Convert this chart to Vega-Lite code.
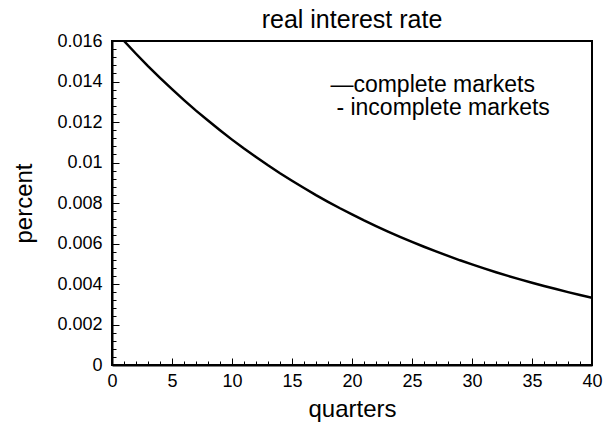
{
  "$schema": "https://vega.github.io/schema/vega-lite/v6.json",
  "width": 480,
  "height": 324,
  "autosize": "none",
  "padding": {"left": 112, "top": 41, "right": 18, "bottom": 69},
  "background": "white",
  "config": {
    "font": "Liberation Sans",
    "view": {"stroke": "black", "strokeWidth": 2}
  },
  "title": {
    "text": "real interest rate",
    "fontSize": 25,
    "fontWeight": "normal",
    "color": "black",
    "anchor": "middle",
    "offset": -1
  },
  "datasets": {
    "series": [
      {"q": 1, "r": 0.01600}, {"q": 2, "r": 0.01537}, {"q": 3, "r": 0.01476}, {"q": 4, "r": 0.01418},
      {"q": 5, "r": 0.01362}, {"q": 6, "r": 0.01308}, {"q": 7, "r": 0.01256}, {"q": 8, "r": 0.01207},
      {"q": 9, "r": 0.01159}, {"q": 10, "r": 0.01113}, {"q": 11, "r": 0.01069}, {"q": 12, "r": 0.01027},
      {"q": 13, "r": 0.00986}, {"q": 14, "r": 0.00947}, {"q": 15, "r": 0.00910}, {"q": 16, "r": 0.00874},
      {"q": 17, "r": 0.00839}, {"q": 18, "r": 0.00806}, {"q": 19, "r": 0.00774}, {"q": 20, "r": 0.00744},
      {"q": 21, "r": 0.00714}, {"q": 22, "r": 0.00686}, {"q": 23, "r": 0.00659}, {"q": 24, "r": 0.00633},
      {"q": 25, "r": 0.00608}, {"q": 26, "r": 0.00584}, {"q": 27, "r": 0.00561}, {"q": 28, "r": 0.00539},
      {"q": 29, "r": 0.00517}, {"q": 30, "r": 0.00497}, {"q": 31, "r": 0.00477}, {"q": 32, "r": 0.00458},
      {"q": 33, "r": 0.00440}, {"q": 34, "r": 0.00423}, {"q": 35, "r": 0.00406}, {"q": 36, "r": 0.00390},
      {"q": 37, "r": 0.00375}, {"q": 38, "r": 0.00360}, {"q": 39, "r": 0.00346}, {"q": 40, "r": 0.00332}
    ],
    "legend": [
      {"q": 18.2, "r": 0.01385, "label": "—complete markets"},
      {"q": 18.7, "r": 0.01268, "label": "- incomplete markets"}
    ]
  },
  "resolve": {"axis": {"x": "independent", "y": "independent"}},
  "layer": [
    {
      "data": {"name": "series"},
      "mark": {"type": "line", "color": "black", "strokeWidth": 2.5, "clip": true},
      "encoding": {
        "x": {
          "field": "q", "type": "quantitative",
          "scale": {"domain": [0, 40], "nice": false, "zero": false},
          "axis": {
            "orient": "bottom",
            "title": "quarters",
            "titleFontSize": 24,
            "titleFontWeight": "normal",
            "titleColor": "black",
            "titlePadding": 7,
            "values": [0, 5, 10, 15, 20, 25, 30, 35, 40],
            "labelFontSize": 18,
            "labelColor": "black",
            "labelPadding": 14,
            "labelFlush": false,
            "labelOverlap": false,
            "grid": false,
            "domainColor": "black",
            "domainWidth": 2,
            "tickColor": "black",
            "tickWidth": 1,
            "tickSize": -7
          }
        },
        "y": {
          "field": "r", "type": "quantitative",
          "scale": {"domain": [0, 0.016], "nice": false, "zero": true},
          "axis": {
            "orient": "left",
            "title": "percent",
            "titleFontSize": 24,
            "titleFontWeight": "normal",
            "titleColor": "black",
            "titlePadding": 20,
            "values": [0, 0.002, 0.004, 0.006, 0.008, 0.01, 0.012, 0.014, 0.016],
            "format": "~g",
            "labelFontSize": 18,
            "labelColor": "black",
            "labelPadding": 17,
            "labelFlush": false,
            "labelOverlap": false,
            "grid": false,
            "domainColor": "black",
            "domainWidth": 2,
            "tickColor": "black",
            "tickWidth": 1,
            "tickSize": -7
          }
        }
      }
    },
    {
      "data": {"name": "series"},
      "mark": {"type": "line", "opacity": 0, "clip": true},
      "encoding": {
        "x": {
          "field": "q", "type": "quantitative",
          "axis": {
            "orient": "bottom",
            "title": null,
            "labels": false,
            "domain": false,
            "grid": false,
            "values": [1,2,3,4,6,7,8,9,11,12,13,14,16,17,18,19,21,22,23,24,26,27,28,29,31,32,33,34,36,37,38,39],
            "tickColor": "black",
            "tickWidth": 1,
            "tickSize": -4
          }
        },
        "y": {
          "field": "r", "type": "quantitative",
          "axis": {
            "orient": "left",
            "title": null,
            "labels": false,
            "domain": false,
            "grid": false,
            "values": [0.0004,0.0008,0.0012,0.0016,0.0024,0.0028,0.0032,0.0036,0.0044,0.0048,0.0052,0.0056,0.0064,0.0068,0.0072,0.0076,0.0084,0.0088,0.0092,0.0096,0.0104,0.0108,0.0112,0.0116,0.0124,0.0128,0.0132,0.0136,0.0144,0.0148,0.0152,0.0156],
            "tickColor": "black",
            "tickWidth": 1,
            "tickSize": -4
          }
        }
      }
    },
    {
      "data": {"name": "legend"},
      "mark": {"type": "text", "align": "left", "baseline": "middle", "fontSize": 23, "color": "black"},
      "encoding": {
        "x": {"field": "q", "type": "quantitative", "axis": null},
        "y": {"field": "r", "type": "quantitative", "axis": null},
        "text": {"field": "label"}
      }
    }
  ]
}
